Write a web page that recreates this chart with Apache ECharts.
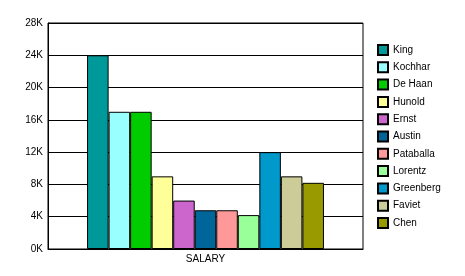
<!DOCTYPE html>
<html><head><meta charset="utf-8">
<script src="https://cdn.jsdelivr.net/npm/echarts@6/dist/echarts.min.js"></script>
<style>html,body{margin:0;padding:0;background:#fff}#c{width:465px;height:276px}</style>
</head><body><div id="c"></div>
<script>
const categories = ['SALARY'];
const names = ['King','Kochhar','De Haan','Hunold','Ernst','Austin','Pataballa','Lorentz','Greenberg','Faviet','Chen'];
const salaries = [24000,17000,17000,9000,6000,4800,4800,4200,12000,9000,8200];
const colors = ['#009999','#99FFFF','#00CC00','#FFFF99','#CC66CC','#006699','#FF9999','#99FF99','#0099CC','#CCCC99','#999900'];
const yTicks = [0,4000,8000,12000,16000,20000,24000,28000];

const font = 'Liberation Sans, Arial, sans-serif';
const chart = echarts.init(document.getElementById('c'));
chart.setOption({
  animation: false,
  backgroundColor: '#fff',
  color: colors,
  grid: {left: 48, top: 23, right: 102, bottom: 27, show: true, borderColor: '#000', borderWidth: 1, backgroundColor: 'transparent'},
  legend: {
    orient: 'vertical', left: 377, top: 44, padding: 0,
    itemWidth: 10, itemHeight: 10, itemGap: 5.3,
    icon: 'rect',
    textStyle: {fontFamily: font, fontSize: 10, lineHeight: 10, color: '#000', padding: [0,0,0,0]},
    data: names
  },
  xAxis: {
    type: 'category', data: categories,
    axisLine: {lineStyle: {color: '#000'}},
    axisTick: {show: false},
    axisLabel: {color: '#000', fontFamily: font, fontSize: 10, margin: 5},
    splitLine: {show: false}
  },
  yAxis: {
    type: 'value', min: yTicks[0], max: yTicks[yTicks.length-1], interval: 4000,
    axisLine: {show: true, lineStyle: {color: '#000'}},
    axisTick: {show: false},
    axisLabel: {color: '#000', fontFamily: font, fontSize: 10, margin: 5, formatter: v => (v/1000) + 'K'},
    splitLine: {show: true, lineStyle: {color: '#000', width: 1}}
  },
  series: names.map((n, i) => ({
    name: n, type: 'bar', data: [salaries[i]],
    barGap: '0%', barCategoryGap: '24.8%',
    itemStyle: {color: colors[i], borderColor: '#000', borderWidth: 1}
  }))
});
</script></body></html>
